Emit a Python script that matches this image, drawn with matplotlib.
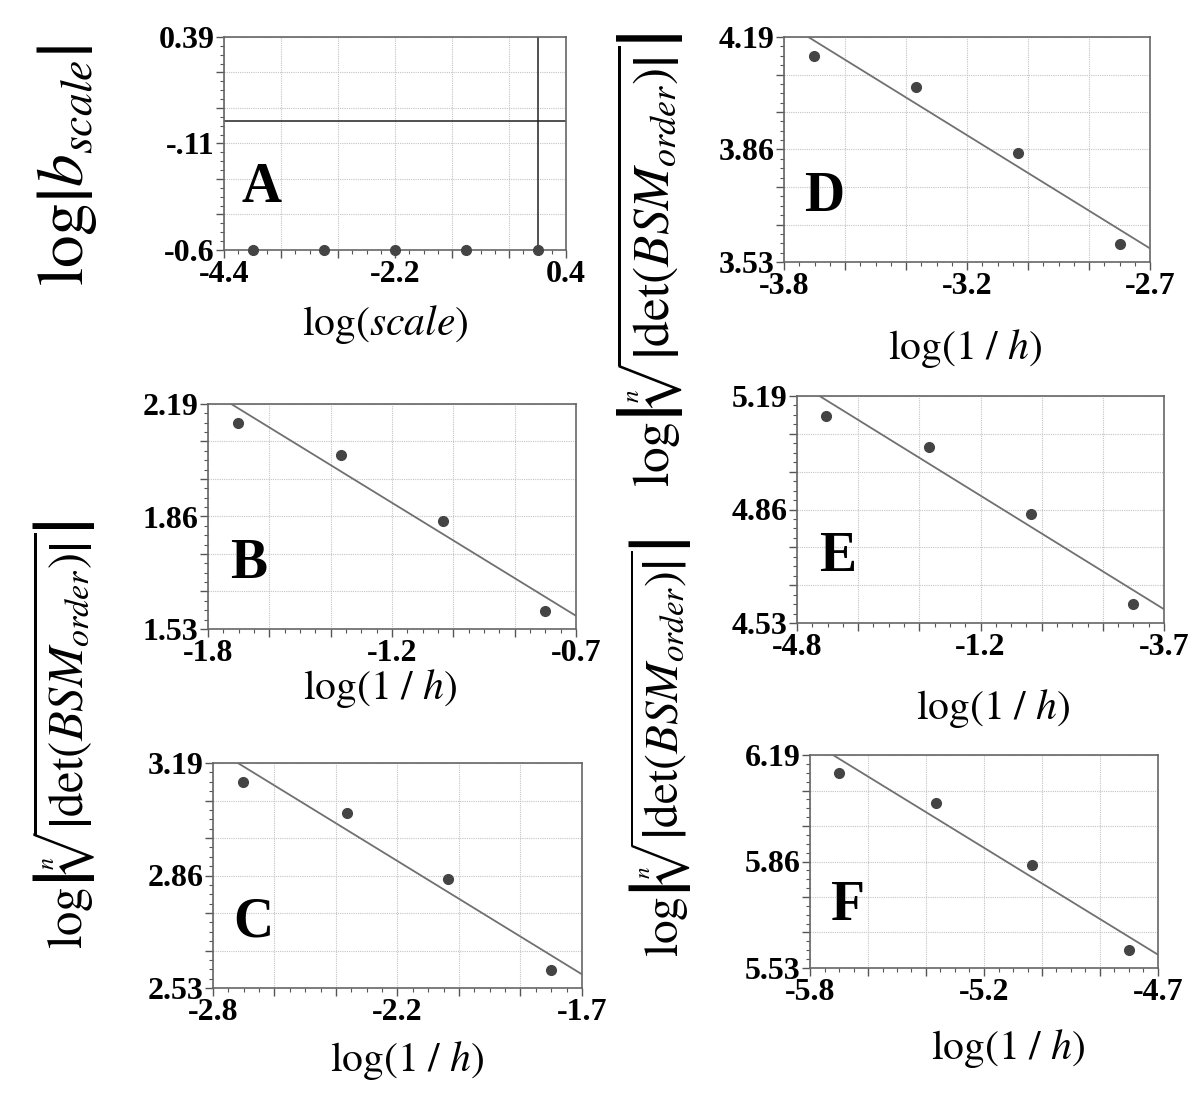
import matplotlib
matplotlib.use('Agg')
import matplotlib.pyplot as plt
import numpy as np

plt.rcParams['font.family'] = ['Liberation Serif', 'DejaVu Serif']
plt.rcParams['mathtext.fontset'] = 'stix'

# ---------------- data ----------------
# Panel A
a_x = [-4.0, -3.0, -2.0, -1.0, 0.0]
a_y = [-0.6, -0.6, -0.6, -0.6, -0.6]
a_xlim = (-4.4, 0.4)
a_ylim = (-0.6, 0.39)
a_xticklabels = ['-4.4', '-2.2', '0.4']
a_yticklabels = ['-0.6', '-.11', '0.39']

# Panels B-F: log(1/h) vs log of n-th root of |det(BSM_order)|
b_x = [-1.711, -1.403, -1.099, -0.792]
b_y = [2.133, 2.041, 1.848, 1.582]
b_xlim = (-1.8, -0.7)
b_ylim = (1.53, 2.19)
b_xticklabels = ['-1.8', '-1.2', '-0.7']
b_yticklabels = ['1.53', '1.86', '2.19']

c_x = [-2.710, -2.402, -2.099, -1.793]
c_y = [3.135, 3.043, 2.850, 2.584]
c_xlim = (-2.8, -1.7)
c_ylim = (2.53, 3.19)
c_xticklabels = ['-2.8', '-2.2', '-1.7']
c_yticklabels = ['2.53', '2.86', '3.19']

d_x = [-3.710, -3.403, -3.098, -2.791]
d_y = [4.135, 4.042, 3.849, 3.583]
d_xlim = (-3.8, -2.7)
d_ylim = (3.53, 4.19)
d_xticklabels = ['-3.8', '-3.2', '-2.7']
d_yticklabels = ['3.53', '3.86', '4.19']

e_x = [-4.712, -4.404, -4.100, -3.792]
e_y = [5.133, 5.041, 4.848, 4.584]
e_xlim = (-4.8, -3.7)
e_ylim = (4.53, 5.19)
e_xticklabels = ['-4.8', '-1.2', '-3.7']
e_yticklabels = ['4.53', '4.86', '5.19']

f_x = [-5.708, -5.403, -5.098, -4.791]
f_y = [6.134, 6.042, 5.849, 5.585]
f_xlim = (-5.8, -4.7)
f_ylim = (5.53, 6.19)
f_xticklabels = ['-5.8', '-5.2', '-4.7']
f_yticklabels = ['5.53', '5.86', '6.19']

W, H = 1200, 1101
fig = plt.figure(figsize=(W / 100, H / 100), dpi=100)


def add_axes(left, top, right, bottom):
    return fig.add_axes([left / W, 1 - bottom / H, (right - left) / W, (bottom - top) / H])


PT_COL = '#444444'
LINE_COL = '#707070'
FRAME_COL = '#666666'
GRID_COL = '#c4c4c4'


def style(ax, xlim, ylim, xlabels, ylabels, letter):
    ax.set_xlim(*xlim)
    ax.set_ylim(*ylim)
    xt = np.linspace(xlim[0], xlim[1], 7)
    yt = np.linspace(ylim[0], ylim[1], 7)
    ax.set_xticks(xt)
    ax.set_yticks(yt)
    ax.set_xticks(np.linspace(xlim[0], xlim[1], 25), minor=True)
    ax.set_yticks(np.linspace(ylim[0], ylim[1], 25), minor=True)
    ax.set_xticklabels([xlabels[0], '', '', xlabels[1], '', '', xlabels[2]],
                       fontfamily='Liberation Serif', fontweight='bold')
    ax.set_yticklabels([ylabels[0], '', '', ylabels[1], '', '', ylabels[2]],
                       fontfamily='Liberation Serif', fontweight='bold')
    ax.grid(True, which='major', color=GRID_COL, linestyle=(0, (1, 1)), linewidth=0.8)
    ax.set_axisbelow(True)
    for s in ax.spines.values():
        s.set_color(FRAME_COL)
        s.set_linewidth(1.2)
    ax.tick_params(which='major', direction='out', length=6, width=1.0, color='#555555',
                   labelsize=23, pad=1)
    ax.tick_params(which='minor', direction='out', length=3, width=0.8, color='#555555')
    ax.text(0.11, 0.29, letter, transform=ax.transAxes, ha='center', va='center',
            fontsize=40, fontweight='bold', fontfamily='Liberation Serif')


# Panel A
axA = add_axes(224, 37, 566, 250)
style(axA, a_xlim, a_ylim, a_xticklabels, a_yticklabels, 'A')
axA.axhline(0, color='#222222', lw=1.1)
axA.axvline(0, color='#222222', lw=1.1)
axA.plot(a_x, a_y, 'o', color=PT_COL, ms=7, clip_on=False, zorder=5)


def fit_panel(ax, x, y, xlim, ylim, xl, yl, letter):
    style(ax, xlim, ylim, xl, yl, letter)
    k, b0 = np.polyfit(x, y, 1)
    xx = np.array(xlim)
    ax.plot(xx, k * xx + b0, color=LINE_COL, lw=1.3, zorder=3)
    ax.plot(x, y, 'o', color=PT_COL, ms=7, zorder=5)


axB = add_axes(208, 404, 576, 629)
fit_panel(axB, b_x, b_y, b_xlim, b_ylim, b_xticklabels, b_yticklabels, 'B')
axC = add_axes(213, 763, 582, 988)
fit_panel(axC, c_x, c_y, c_xlim, c_ylim, c_xticklabels, c_yticklabels, 'C')
axD = add_axes(784, 37, 1150, 262)
fit_panel(axD, d_x, d_y, d_xlim, d_ylim, d_xticklabels, d_yticklabels, 'D')
axE = add_axes(797, 396, 1164, 623)
fit_panel(axE, e_x, e_y, e_xlim, e_ylim, e_xticklabels, e_yticklabels, 'E')
axF = add_axes(810, 755, 1158, 968)
fit_panel(axF, f_x, f_y, f_xlim, f_ylim, f_xticklabels, f_yticklabels, 'F')

# axis titles
xlab_scale = r'$\mathrm{log}\left(scale\right)$'
xlab_h = r'$\mathrm{log}\left(1\ /\ h\right)$'
ylab_b = r'$\mathrm{log}\left|b_{scale}\right|$'
ylab_det = r'$\mathrm{log}\left|\sqrt[n]{\left|\mathrm{det}\left(BSM_{order}\right)\right|}\right|$'


def ftext(x, y, s, size, rot=0):
    fig.text(x / W, 1 - y / H, s, ha='center', va='center', fontsize=size, rotation=rot)


ftext(385, 324, xlab_scale, 30)
ftext(380, 689, xlab_h, 30)
ftext(407, 1060, xlab_h, 30)
ftext(965, 349, xlab_h, 30)
ftext(993, 708, xlab_h, 30)
ftext(1008, 1048, xlab_h, 30)

ftext(68, 165, ylab_b, 47, rot=90)
ftext(64, 735, ylab_det, 35, rot=90)
ftext(650, 260, ylab_det, 37, rot=90)
ftext(660, 748, ylab_det, 34, rot=90)

fig.savefig('out.png', dpi=100)
